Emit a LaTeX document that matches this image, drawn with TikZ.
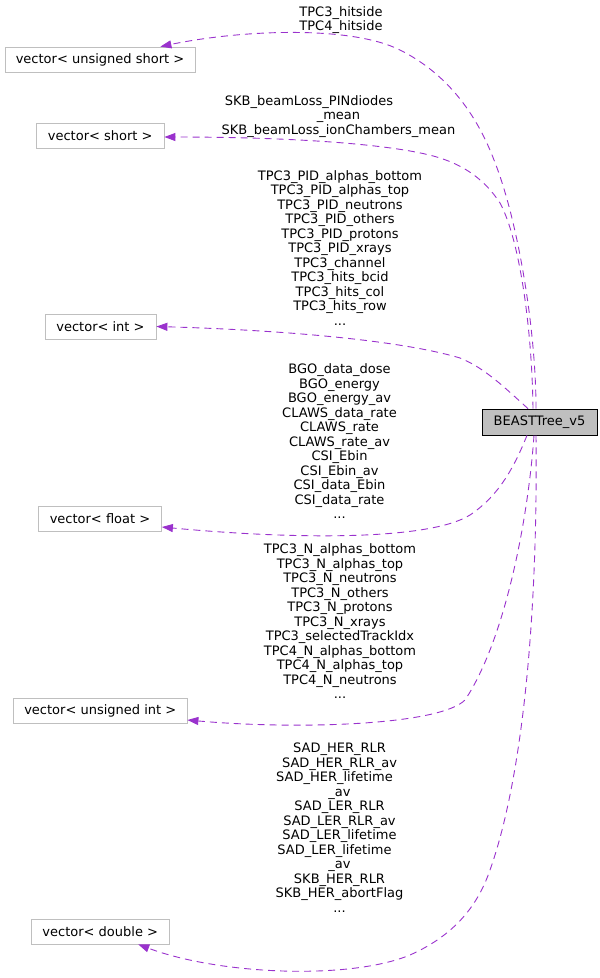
\documentclass[tikz,border=0pt]{standalone}
\usepackage{fontspec}
\setmainfont{DejaVu Sans}
\usetikzlibrary{arrows.meta}
\definecolor{edgecol}{HTML}{9A32CD}
\definecolor{boxgray}{HTML}{BFBFBF}
\begin{document}
\begin{tikzpicture}[x=1pt,y=-1pt,
  every node/.style={font=\fontsize{13}{14.5}\selectfont, text=black},
  vbox/.style={draw=boxgray, line width=0.8pt, minimum height=25pt, inner sep=0pt},
  mainbox/.style={draw=black, fill=boxgray, line width=0.8pt, minimum height=26pt, minimum width=115pt, inner sep=0pt},
  lbl/.style={align=center, inner sep=0pt},
  edge/.style={draw=edgecol, line width=0.9pt, dash pattern=on 7pt off 5pt, -{Triangle[length=11pt,width=8pt]}}]
\useasboundingbox (0,0) rectangle (600,978);

\node[mainbox] (B) at (539.5,422) {BEASTTree\_v5};

\node[vbox, minimum width=190pt] (us) at (100,59.5) {vector< unsigned short >};
\node[vbox, minimum width=127.5pt] (sh) at (100.25,135.5) {vector< short >};
\node[vbox, minimum width=111pt] (in) at (100.5,326.5) {vector< int >};
\node[vbox, minimum width=123pt] (fl) at (100,518.5) {vector< float >};
\node[vbox, minimum width=173.5pt] (ui) at (100.25,710.5) {vector< unsigned int >};
\node[vbox, minimum width=137.5pt] (db) at (100.25,931.5) {vector< double >};

% labels
\node[lbl] (l1) at (341,20) {TPC3\_hitside\\TPC4\_hitside};
\node[lbl] (l2) at (338.5,116.5) {SKB\_beamLoss\_PINdiodes\rule{59pt}{0pt}\\\_mean\\SKB\_beamLoss\_ionChambers\_mean};
\node[lbl] (l3) at (340,248) {TPC3\_PID\_alphas\_bottom\\TPC3\_PID\_alphas\_top\\TPC3\_PID\_neutrons\\TPC3\_PID\_others\\TPC3\_PID\_protons\\TPC3\_PID\_xrays\\TPC3\_channel\\TPC3\_hits\_bcid\\TPC3\_hits\_col\\TPC3\_hits\_row\\...};
\node[lbl] (l4) at (339.5,441.5) {BGO\_data\_dose\\BGO\_energy\\BGO\_energy\_av\\CLAWS\_data\_rate\\CLAWS\_rate\\CLAWS\_rate\_av\\CSI\_Ebin\\CSI\_Ebin\_av\\CSI\_data\_Ebin\\CSI\_data\_rate\\...};
\node[lbl] (l5) at (340,621.5) {TPC3\_N\_alphas\_bottom\\TPC3\_N\_alphas\_top\\TPC3\_N\_neutrons\\TPC3\_N\_others\\TPC3\_N\_protons\\TPC3\_N\_xrays\\TPC3\_selectedTrackIdx\\TPC4\_N\_alphas\_bottom\\TPC4\_N\_alphas\_top\\TPC4\_N\_neutrons\\...};
\node[lbl] (l6) at (339.5,827.5) {SAD\_HER\_RLR\\SAD\_HER\_RLR\_av\\SAD\_HER\_lifetime\rule{10pt}{0pt}\\\_av\\SAD\_LER\_RLR\\SAD\_LER\_RLR\_av\\SAD\_LER\_lifetime\\SAD\_LER\_lifetime\rule{10pt}{0pt}\\\_av\\SKB\_HER\_RLR\\SKB\_HER\_abortFlag\\...};

% waypoints
\coordinate (e1a) at (494,160); \coordinate (e1b) at (400,50);
\coordinate (e2a) at (500,203); \coordinate (e2b) at (440,158);
\coordinate (e3a) at (460,358);
\coordinate (e4a) at (470,515);
\coordinate (e5a) at (465,700);
\coordinate (e6a) at (490,870); \coordinate (e6b) at (410,955);

% edges
\draw[edge] ([xshift=-3.5pt]B.north) .. controls (536,330) and (518,220) .. (e1a)
  .. controls (478,118) and (450,75) .. (e1b)
  .. controls (350,25) and (240,30) .. ([xshift=-35pt]us.north east);
\draw[edge] ([xshift=-6.5pt]B.north) .. controls (532,330) and (520,240) .. (e2a)
  .. controls (485,180) and (465,166) .. (e2b)
  .. controls (400,145) and (300,137) .. ([yshift=-1.5pt]sh.east);
\draw[edge] ([xshift=-11.5pt]B.north) .. controls (505,388) and (485,368) .. (e3a)
  .. controls (400,340) and (280,330) .. (in.east);
\draw[edge] ([xshift=-12.5pt]B.south) .. controls (515,465) and (500,495) .. (e4a)
  .. controls (430,540) and (300,540) .. ([yshift=-8.5pt]fl.east);
\draw[edge] ([xshift=-5.5pt]B.south) .. controls (528,520) and (505,640) .. (e5a)
  .. controls (440,725) and (300,730) .. ([yshift=-9.5pt]ui.east);
\draw[edge] ([xshift=-3.5pt]B.south) .. controls (538,620) and (522,780) .. (e6a)
  .. controls (478,905) and (455,935) .. (e6b)
  .. controls (350,980) and (220,975) .. ([xshift=38pt]db.south);
\end{tikzpicture}
\end{document}
